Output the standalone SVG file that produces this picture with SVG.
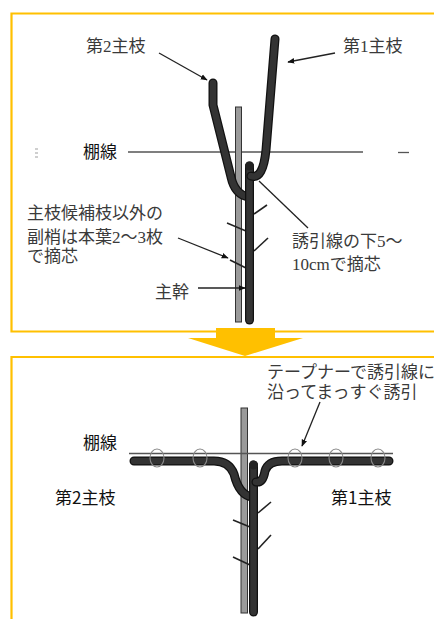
<svg xmlns="http://www.w3.org/2000/svg" width="434" height="619" viewBox="0 0 434 619">
  <defs>
    <marker id="ah" viewBox="0 0 10 10" refX="9" refY="5" markerWidth="7" markerHeight="7" orient="auto" markerUnits="userSpaceOnUse">
      <path d="M0,1 L10,5 L0,9 Z" fill="#111"/>
    </marker>
    <style>
      .frame { fill: none; stroke: #FFC000; stroke-width: 2.2; }
      .mincho { font-family: "Liberation Serif", "Noto Sans CJK JP", serif; fill: #3a3a3a; font-size: 17px; }
      .gothic { font-family: "Noto Sans CJK JP", "Liberation Sans", sans-serif; fill: #111; font-size: 17px; }
      .wire { stroke: #555; stroke-width: 1.3; fill: none; }
      .pole { fill: #9a9a9a; stroke: #333; stroke-width: 1; }
      .branch { fill: none; stroke: #111; stroke-width: 9; stroke-linecap: round; stroke-linejoin: round; }
      .branch-in { fill: none; stroke: #333; stroke-width: 6.5; stroke-linecap: round; stroke-linejoin: round; }
      .shoot { stroke: #222; stroke-width: 1.6; fill: none; }
      .lead { stroke: #222; stroke-width: 1.3; fill: none; }
      .tie { fill: none; stroke: #888; stroke-width: 1.1; }
    </style>
  </defs>

  <rect width="434" height="619" fill="#ffffff"/>

  <!-- frames and the step arrow -->
  <g id="frames">
    <path class="frame" d="M434,13.5 H11.5 V331.5 H434"/>
    <path class="frame" d="M434,357 H11.5 V619"/>
    <path d="M216,328 H275 V338 H303 L245,356 L188,338 H216 Z" fill="#FFC000"/>
  </g>

  <!-- ===== before: top panel ===== -->
  <g id="top-wire">
    <line class="wire" x1="128" y1="152" x2="363" y2="152"/>
    <line class="wire" x1="398" y1="152.5" x2="409" y2="152.5" stroke-width="2"/>
    <g stroke="#bbb" stroke-width="1.4">
      <line x1="35" y1="149" x2="38" y2="149"/>
      <line x1="35" y1="153" x2="38" y2="153"/>
      <line x1="35" y1="157" x2="38" y2="157"/>
    </g>
  </g>

  <g id="top-pole">
    <rect class="pole" x="235.5" y="107" width="6" height="215"/>
  </g>

  <g id="top-tree">
    <!-- shoots on the trunk -->
    <line class="shoot" x1="227" y1="223" x2="246" y2="231"/>
    <line class="shoot" x1="230" y1="260" x2="246" y2="268"/>
    <line class="shoot" x1="254" y1="214" x2="267" y2="205"/>
    <line class="shoot" x1="254" y1="251" x2="268" y2="238"/>
    <!-- second main branch -->
    <path class="branch" d="M213,83 L213,105 L231,177 Q235,195 249,197"/>
    <path class="branch-in" d="M213,83 L213,105 L231,177 Q235,195 249,197"/>
    <!-- trunk -->
    <line class="branch" x1="249.5" y1="166" x2="249.5" y2="320" stroke-linecap="butt"/>
    <line class="branch-in" x1="249.5" y1="166" x2="249.5" y2="320" stroke-linecap="butt"/>
    <circle cx="249.5" cy="166" r="4.5" fill="#222"/>
    <!-- first main branch -->
    <path class="branch" d="M275,39 L266,150 Q263,180 251,176"/>
    <path class="branch-in" d="M275,39 L266,150 Q263,180 251,176"/>
  </g>

  <g id="top-labels">
    <text class="mincho" x="86" y="52">第2主枝</text>
    <text class="mincho" x="343" y="52">第1主枝</text>
    <text class="gothic" x="83" y="158">棚線</text>
    <text class="mincho" x="27" y="219">主枝候補枝以外の</text>
    <text class="mincho" x="27" y="243">副梢は本葉2～3枚</text>
    <text class="mincho" x="27" y="262">で摘芯</text>
    <text class="mincho" x="155" y="298">主幹</text>
    <text class="mincho" x="292" y="247">誘引線の下5～</text>
    <text class="mincho" x="292" y="270">10cmで摘芯</text>
  </g>

  <g id="top-connectors">
    <line class="lead" x1="159" y1="53" x2="207" y2="80" marker-end="url(#ah)"/>
    <line class="lead" x1="335" y1="53" x2="288" y2="62" marker-end="url(#ah)"/>
    <line class="lead" x1="178" y1="238" x2="228" y2="258" marker-end="url(#ah)"/>
    <line class="lead" x1="198" y1="288" x2="245" y2="288" marker-end="url(#ah)"/>
    <line class="lead" x1="259" y1="181" x2="308" y2="228"/>
  </g>

  <!-- ===== after: bottom panel ===== -->
  <g id="bottom-pole">
    <rect class="pole" x="241" y="408" width="6.5" height="205"/>
  </g>

  <g id="bottom-wire">
    <line class="wire" x1="129" y1="453.5" x2="393" y2="453.5"/>
  </g>

  <g id="bottom-tree">
    <line class="shoot" x1="233" y1="520" x2="250" y2="527"/>
    <line class="shoot" x1="233" y1="557" x2="250" y2="565"/>
    <line class="shoot" x1="258" y1="513" x2="271" y2="502"/>
    <line class="shoot" x1="258" y1="549" x2="271" y2="535"/>
    <!-- second main branch, laid along the wire -->
    <path class="branch" d="M134,461 L214,461 Q229,461 234,474 Q239,495 252,497"/>
    <path class="branch-in" d="M134,461 L214,461 Q229,461 234,474 Q239,495 252,497"/>
    <!-- trunk -->
    <line class="branch" x1="253.5" y1="465" x2="253.5" y2="612" stroke-linecap="butt"/>
    <line class="branch-in" x1="253.5" y1="465" x2="253.5" y2="612" stroke-linecap="butt"/>
    <circle cx="253.5" cy="465" r="4.5" fill="#222"/>
    <!-- first main branch -->
    <path class="branch" d="M389,461 L282,461 Q268,461 265,471 Q263,483 256,482"/>
    <path class="branch-in" d="M389,461 L282,461 Q268,461 265,471 Q263,483 256,482"/>
  </g>

  <g id="ties">
    <ellipse class="tie" cx="157" cy="458" rx="7" ry="9"/>
    <ellipse class="tie" cx="200" cy="458" rx="7" ry="9"/>
    <ellipse class="tie" cx="295" cy="458" rx="7" ry="9"/>
    <ellipse class="tie" cx="336" cy="458" rx="7" ry="9"/>
    <ellipse class="tie" cx="378" cy="458" rx="7" ry="9"/>
  </g>

  <g id="bottom-labels">
    <text class="mincho" x="267" y="378" font-size="15">テープナーで誘引線に</text>
    <text class="mincho" x="267" y="398" font-size="15">沿ってまっすぐ誘引</text>
    <text class="gothic" x="83" y="449">棚線</text>
    <text class="gothic" x="55" y="504" font-size="18">第2主枝</text>
    <text class="gothic" x="331" y="504" font-size="18">第1主枝</text>
  </g>

  <g id="bottom-connectors">
    <line class="lead" x1="320" y1="402" x2="302" y2="446" marker-end="url(#ah)"/>
  </g>
</svg>
